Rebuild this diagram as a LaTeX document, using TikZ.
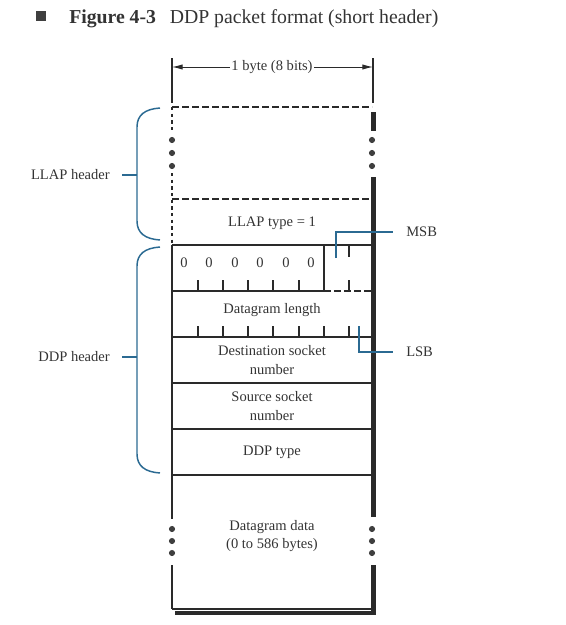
\documentclass[tikz,border=0pt]{standalone}
\usepackage{fontspec}
\setmainfont{Liberation Serif}
\usetikzlibrary{arrows.meta}
\definecolor{ink}{HTML}{2A2A2A}
\definecolor{txtc}{HTML}{333333}
\definecolor{bl}{HTML}{2B6A92}
\begin{document}
\begin{tikzpicture}[x=0.75pt,y=-0.75pt,
  txt/.style={text=txtc,font=\fontsize{10.9}{14.2}\selectfont,inner sep=0pt,align=center},
  boxline/.style={draw=ink,line width=1.1pt},
  hdash/.style={draw=ink,line width=0.9pt,dash pattern=on 5pt off 2.5pt},
  vdash/.style={draw=ink,line width=0.9pt,dash pattern=on 2.5pt off 2.5pt},
  bar/.style={draw=ink,line width=3.75pt},
  dotc/.style={circle,fill=ink!90,inner sep=0pt,minimum size=4.6pt},
  tickln/.style={draw=ink,line width=0.8pt},
  brace/.style={draw=bl,line width=1.1pt},
  arr/.style={-{Latex[length=8pt,width=4pt]},draw=ink,line width=0.7pt}]
\useasboundingbox (0,0) rectangle (566,625);

% title
\node[fill=ink!90,minimum size=7.5pt,inner sep=0pt] (sq) at (41,16) {};
\node[anchor=base west,inner sep=0pt,text=txtc,font=\fontsize{14.8}{16}\selectfont] (title) at (69,23)
  {\textbf{Figure 4-3}\hspace{0.7em}DDP packet format (short header)};

% dimension
\coordinate (eL) at (172,67);
\coordinate (eR) at (373,67);
\draw[tickln] (172,58) -- (172,103);
\draw[tickln] (373,58) -- (373,103);
\node[txt,fill=white,inner xsep=1pt] (dim) at (272,67) {1 byte (8 bits)};
\draw[arr] (dim.west) -- (eL);
\draw[arr] (dim.east) -- (eR);

% LLAP header part
\draw[hdash] (172,107) -- (372,107);
\draw[hdash] (172,199) -- (372,199);
\draw[vdash] (172,107) -- (172,133);
\draw[vdash] (172,173) -- (172,245);
\foreach \y [count=\i] in {140,153,166} {
  \node[dotc] (dl\i) at (172,\y) {};
  \node[dotc] (dr\i) at (372,\y) {};
}
\node[txt] (llaptype) at (272,223) {LLAP type = 1};

% right bar (shadow)
\draw[bar] (373.5,112) -- (373.5,131);
\draw[bar] (373.5,177) -- (373.5,517);
\draw[bar] (373.5,565) -- (373.5,615);
\draw[draw=ink,line width=3pt] (175,613) -- (375,613);

% DDP box
\draw[boxline] (172,245) -- (372,245);
\draw[boxline] (172,291) -- (324,291);
\draw[hdash] (324,291) -- (372,291);
\draw[boxline] (324,245) -- (324,291);
\draw[boxline] (172,337) -- (372,337);
\draw[boxline] (172,383) -- (372,383);
\draw[boxline] (172,429) -- (372,429);
\draw[boxline] (172,475) -- (372,475);
\draw[boxline] (172,609) -- (372,609);
\draw[boxline] (172,245) -- (172,519);
\draw[boxline] (172,565) -- (172,609);
\foreach \y [count=\i] in {529,541,553} {
  \node[dotc] (ddl\i) at (172,\y) {};
  \node[dotc] (ddr\i) at (372,\y) {};
}

% bit ticks
\foreach \x in {198,223,248,273,299,349} \draw[tickln] (\x,291) -- (\x,280);
\draw[tickln] (349,245) -- (349,257);
\foreach \x in {198,223,248,273,299,324,349} \draw[tickln] (\x,337) -- (\x,326);
\foreach \x [count=\i] in {184,209,235,260,286,311} \node[txt] (z\i) at (\x,263) {0};

% MSB / LSB
\node[txt,anchor=west,inner xsep=9.75pt] (msb) at (393,232) {MSB};
\coordinate (msbP) at (336,258);
\draw[brace] (msbP) |- (msb.west);
\node[txt,anchor=west,inner xsep=9.75pt] (lsb) at (393,352) {LSB};
\coordinate (lsbP) at (359,326);
\draw[brace] (lsbP) |- (lsb.west);

% field labels
\node[txt] (dlen) at (272,310) {Datagram length};
\node[txt] (dsock) at (272,360) {Destination socket\\number};
\node[txt] (ssock) at (272,406) {Source socket\\number};
\node[txt] (dtype) at (272,452) {DDP type};
\node[txt] (ddata) at (272,536) {Datagram data\\(0 to 586 bytes)};

% braces
\draw[brace] (160,108) .. controls (145,109) and (137,115) .. (137,127) -- (137,221) .. controls (137,233) and (145,239) .. (160,240);
\coordinate (bLm) at (137,175);
\node[txt,anchor=east,inner xsep=9pt] (llap) at (122,175) {LLAP header};
\draw[brace] (llap.east) -- (bLm);
\draw[brace] (160,247) .. controls (145,248) and (137,254) .. (137,266) -- (137,454) .. controls (137,466) and (145,472) .. (160,473);
\coordinate (bDm) at (137,357);
\node[txt,anchor=east,inner xsep=9pt] (ddp) at (122,357) {DDP header};
\draw[brace] (ddp.east) -- (bDm);
\end{tikzpicture}
\end{document}
